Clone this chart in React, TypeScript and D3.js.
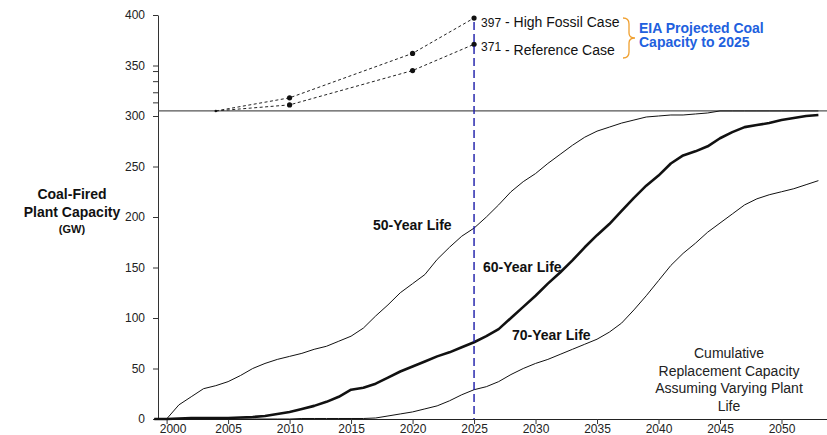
import { useEffect, useRef } from 'react';
import * as d3 from 'd3';

// annual series, GW of cumulative replacement capacity
const years = d3.range(1999, 2054);
const life50 = [
    0, 0, 14, 22, 30, 33, 37, 43, 50, 55, 59, 62, 65, 69, 72, 77, 82, 90, 102, 113, 125, 134, 143, 158, 170, 181, 189,
    200, 212, 225, 235, 243, 253, 262, 271, 279, 285, 289, 293, 296, 299, 300, 301, 301, 302, 303, 305, 305, 305, 305,
    305, 305, 305, 305, 305,
];
const life60 = [
    0, 0, 0.5, 1, 1, 1, 1, 1.5, 2, 3, 5, 7, 10, 13, 17, 22, 29, 31, 35, 41, 47, 52, 57, 62, 66, 71, 76, 82, 89, 100,
    111, 122, 134, 145, 157, 170, 182, 193, 206, 219, 231, 241, 253, 261, 265, 270, 278, 284, 289, 291, 293, 296, 298,
    300, 301,
];
const life70 = [
    0, 0, 0, 0, 0, 0, 0, 0, 0, 0, 0, 0, 0.5, 0.5, 0.5, 0.5, 0.5, 0.5, 1, 3, 5, 7, 10, 13, 18, 24, 29, 32, 37, 44, 50, 55,
    59, 64, 69, 74, 79, 86, 95, 108, 122, 137, 152, 164, 174, 185, 194, 203, 212, 218, 222, 225, 228, 232, 236,
];

const currentCapacity = 305;
const projYears = [2004, 2010, 2020, 2025];
const highFossil = [305, 318, 362, 397];
const referenceCase = [305, 311, 345, 371];

const yTicks = [0, 50, 100, 150, 200, 250, 300, 350, 400];
const yMinorTicks = [313, 323, 334, 344];
const xTicks = [2000, 2005, 2010, 2015, 2020, 2025, 2030, 2035, 2040, 2045, 2050];

const WIDTH = 827;
const HEIGHT = 435;
const FONT = '"Liberation Sans", Arial, sans-serif';

export default function App() {
    const svgRef = useRef<SVGSVGElement | null>(null);

    useEffect(() => {
        if (!svgRef.current) {
            return;
        }
        const svg = d3.select(svgRef.current);
        svg.selectAll('*').remove();

        const x = d3.scaleLinear().domain([1999.3, 2053.7]).range([158, 827]);
        const y = d3.scaleLinear().domain([0, 400]).range([419, 15]);

        const g = svg.append('g').attr('font-family', FONT);

        // y axis
        const yAxis = g
            .append('g')
            .attr('transform', `translate(${x(1999.3)},0)`)
            .call(d3.axisLeft(y).tickValues(yTicks).tickSize(5).tickSizeOuter(0).tickPadding(8));
        yAxis.select('.domain').attr('stroke', '#333');
        yAxis.selectAll('.tick line').attr('stroke', '#333');
        yAxis.selectAll('.tick text').attr('font-size', 12).attr('fill', '#222').attr('font-family', FONT);
        yAxis
            .selectAll('.minor')
            .data(yMinorTicks)
            .join('line')
            .attr('class', 'minor')
            .attr('x1', -5)
            .attr('x2', 0)
            .attr('y1', (d) => y(d))
            .attr('y2', (d) => y(d))
            .attr('stroke', '#333');

        // x axis
        const xAxis = g
            .append('g')
            .attr('transform', `translate(0,${y(0)})`)
            .call(
                d3
                    .axisBottom(x)
                    .tickValues(xTicks)
                    .tickFormat((d) => String(d))
                    .tickSize(5)
                    .tickSizeOuter(0)
                    .tickPadding(0),
            );
        xAxis.select('.domain').attr('stroke', '#222').attr('stroke-width', 1.2);
        xAxis.selectAll('.tick line').attr('stroke', '#333');
        xAxis.selectAll('.tick text').attr('font-size', 12).attr('fill', '#222').attr('font-family', FONT);
        xAxis
            .selectAll<SVGTextElement, number>('.tick text')
            .filter((d) => d === 2000)
            .attr('dx', 6);

        // current capacity line
        g.append('line')
            .attr('x1', x(1999.3))
            .attr('x2', x(2053.7))
            .attr('y1', y(currentCapacity))
            .attr('y2', y(currentCapacity))
            .attr('stroke', '#555')
            .attr('stroke-width', 1.3);

        // replacement curves
        const line = d3
            .line<number>()
            .x((_, i) => x(years[i]))
            .y((d) => y(d));
        const curves = [
            { values: life50, width: 1 },
            { values: life70, width: 1 },
            { values: life60, width: 2.6 },
        ];
        g.selectAll('.curve')
            .data(curves)
            .join('path')
            .attr('class', 'curve')
            .attr('d', (c) => line(c.values))
            .attr('fill', 'none')
            .attr('stroke', '#111')
            .attr('stroke-width', (c) => c.width)
            .attr('stroke-linejoin', 'round');

        // EIA projections
        const projLine = d3
            .line<number>()
            .x((_, i) => x(projYears[i]))
            .y((d) => y(d));
        [highFossil, referenceCase].forEach((series) => {
            g.append('path')
                .attr('d', projLine(series))
                .attr('fill', 'none')
                .attr('stroke', '#222')
                .attr('stroke-width', 1)
                .attr('stroke-dasharray', '3,2.5');
            g.selectAll(null)
                .data(series.slice(1))
                .join('circle')
                .attr('cx', (_, i) => x(projYears[i + 1]))
                .attr('cy', (d) => y(d))
                .attr('r', 2.6)
                .attr('fill', '#111');
        });
        g.append('circle').attr('cx', x(projYears[0])).attr('cy', y(305)).attr('r', 1.3).attr('fill', '#111');

        // 2025 marker
        g.append('line')
            .attr('x1', x(2025))
            .attr('x2', x(2025))
            .attr('y1', y(393))
            .attr('y2', y(0))
            .attr('stroke', '#1a1aa8')
            .attr('stroke-width', 1.4)
            .attr('stroke-dasharray', '8,4');

        // labels
        const text = (tx: number, ty: number, s: string, size: number, opts: Record<string, string | number> = {}) => {
            const t = g
                .append('text')
                .attr('x', tx)
                .attr('y', ty)
                .attr('font-size', size)
                .attr('fill', '#111')
                .text(s);
            Object.entries(opts).forEach(([k, v]) => t.attr(k, v));
            return t;
        };

        text(x(2025) + 7, 27, '397', 12);
        text(x(2025) + 31, 27, '- High Fossil Case', 14);
        text(x(2025) + 7, 51, '371', 12);
        text(x(2025) + 31, 55, '- Reference Case', 14);

        g.append('path')
            .attr('d', 'M623,18 Q629,18 629,24 L629,33 Q629,38 635,38 Q629,38 629,43 L629,52 Q629,58 623,58')
            .attr('fill', 'none')
            .attr('stroke', '#f0a030')
            .attr('stroke-width', 1.3);
        text(639, 33, 'EIA Projected Coal', 14, { 'font-weight': 'bold', fill: '#2160de' });
        text(639, 47, 'Capacity to 2025', 14, { 'font-weight': 'bold', fill: '#2160de' });

        text(373, 230, '50-Year Life', 14, { 'font-weight': 'bold' });
        text(483, 272, '60-Year Life', 14, { 'font-weight': 'bold' });
        text(512, 340, '70-Year Life', 14, { 'font-weight': 'bold' });

        ['Cumulative', 'Replacement Capacity', 'Assuming Varying Plant', 'Life'].forEach((s, i) =>
            text(729, 358 + i * 17.6, s, 14, { 'text-anchor': 'middle', fill: '#222' }),
        );

        text(72, 199, 'Coal-Fired', 14, { 'font-weight': 'bold', 'text-anchor': 'middle' });
        text(72, 217, 'Plant Capacity', 14, { 'font-weight': 'bold', 'text-anchor': 'middle' });
        text(72, 233, '(GW)', 11, { 'font-weight': 'bold', 'text-anchor': 'middle' });
    }, []);

    return (
        <div style={{ position: 'absolute', left: 0, top: 0, background: '#fff' }}>
            <svg ref={svgRef} width={WIDTH} height={HEIGHT} style={{ display: 'block' }} />
        </div>
    );
}
